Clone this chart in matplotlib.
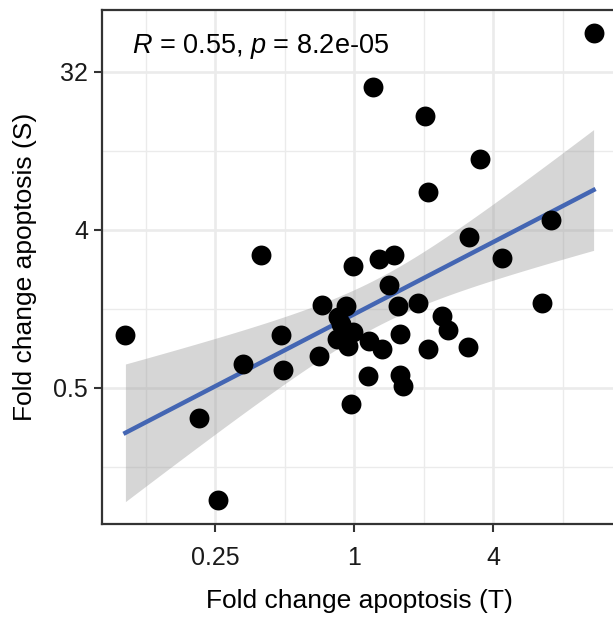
import numpy as np
import matplotlib
matplotlib.use("Agg")
from matplotlib import pyplot as plt
from matplotlib.ticker import FixedLocator, NullFormatter

plt.rcParams['font.family'] = ['Liberation Sans', 'DejaVu Sans']
plt.rcParams['mathtext.fontset'] = 'custom'
plt.rcParams['mathtext.rm'] = 'Liberation Sans'
plt.rcParams['mathtext.it'] = 'Liberation Sans:italic'

# fold change values
fc_T = [10.88, 1.21, 2.03, 3.51, 2.08, 7.08, 3.13, 4.36, 1.48, 1.28,
        0.99, 0.394, 0.102, 0.481, 0.331, 0.489, 0.213, 0.258, 0.705, 0.722,
        0.967, 1.408, 1.88, 1.55, 2.41, 2.55, 3.10, 2.08, 1.58, 1.318,
        1.16, 1.15, 1.58, 1.62, 6.5, 0.921, 0.850, 0.987, 0.841, 0.939,
        0.876]
fc_S = [52.9, 26.2, 17.9, 10.1, 6.56, 4.56, 3.62, 2.76, 2.88, 2.73,
        2.47, 2.88, 1.0, 1.0, 0.687, 0.629, 0.338, 0.114, 0.758, 1.48,
        0.402, 1.92, 1.53, 1.46, 1.29, 1.07, 0.854, 0.828, 1.017, 0.835,
        0.924, 0.583, 0.59, 0.51, 1.52, 1.47, 1.26, 1.04, 0.945, 0.861,
        1.15]

x_breaks = [0.25, 1, 4]
x_labels = ['0.25', '1', '4']
y_breaks = [0.5, 4, 32]
y_labels = ['0.5', '4', '32']
cor_label = r'$\it{R}$ = 0.55, $\it{p}$ = 8.2e-05'

W, H = 613, 626
fig = plt.figure(figsize=(W / 100, H / 100), dpi=100)
# panel runs past the right edge of the picture, as in the reference
ax = fig.add_axes([102 / W, (H - 523.5) / H, 515 / W, 513.5 / H])

lx = np.log2(fc_T)
ly = np.log2(fc_S)

# linear fit on log2 scale + 95% confidence band
n = len(lx)
b1, b0 = np.polyfit(lx, ly, 1)
xs = np.linspace(lx.min(), lx.max(), 100)
fit = b0 + b1 * xs
resid = ly - (b0 + b1 * lx)
s = np.sqrt(np.sum(resid ** 2) / (n - 2))
tq = 2.02  # t quantile, df ~ 40
se = s * np.sqrt(1 / n + (xs - lx.mean()) ** 2 / np.sum((lx - lx.mean()) ** 2))

ax.fill_between(2 ** xs, 2 ** (fit - tq * se), 2 ** (fit + tq * se),
                color='#999999', alpha=0.4, lw=0, zorder=2)
ax.plot(2 ** xs, 2 ** fit, color='#4466B3', lw=3.2, zorder=3)
ax.scatter(fc_T, fc_S, s=205, color='black', lw=0, zorder=4)

ax.set_xscale('log', base=2)
ax.set_yscale('log', base=2)

xr = lx.max() - lx.min()
yr = ly.max() - ly.min()
ax.set_xlim(2 ** (lx.min() - 0.05 * xr), 2 ** (lx.max() + 0.05 * xr))
ax.set_ylim(2 ** (ly.min() - 0.05 * yr), 2 ** (ly.max() + 0.05 * yr))

ax.xaxis.set_major_locator(FixedLocator(x_breaks))
ax.yaxis.set_major_locator(FixedLocator(y_breaks))
ax.set_xticklabels(x_labels)
ax.set_yticklabels(y_labels)
ax.xaxis.set_minor_locator(FixedLocator([2 ** -3, 2 ** -1, 2, 8]))
ax.yaxis.set_minor_locator(FixedLocator([2 ** -2.5, 2 ** 0.5, 2 ** 3.5]))
ax.xaxis.set_minor_formatter(NullFormatter())
ax.yaxis.set_minor_formatter(NullFormatter())

ax.grid(which='major', color='#EBEBEB', lw=1.9, zorder=0)
ax.grid(which='minor', color='#EBEBEB', lw=1.0, zorder=0)
ax.set_axisbelow(True)
ax.tick_params(which='minor', length=0)
ax.tick_params(which='major', length=6, width=1.5, color='#333333',
               labelsize=18, labelcolor='#1a1a1a')
ax.tick_params(axis='x', pad=10)
ax.tick_params(axis='y', pad=4)
for sp in ax.spines.values():
    sp.set_color('#333333')
    sp.set_linewidth(1.6)

ax.set_xlabel('Fold change apoptosis (T)', fontsize=19, labelpad=14)
ax.set_ylabel('Fold change apoptosis (S)', fontsize=19, labelpad=12)

ax.text(0.058, 0.917, cor_label, transform=ax.transAxes, fontsize=19.5,
        va='baseline', ha='left')

fig.savefig('out.png', dpi=100)
